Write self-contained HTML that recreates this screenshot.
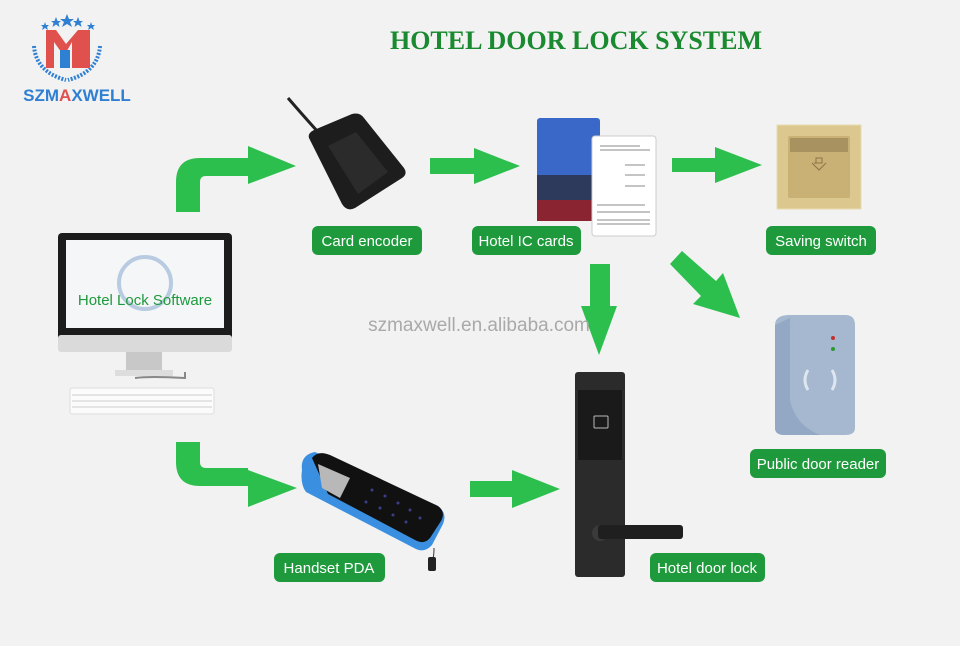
<!DOCTYPE html>
<html><head><meta charset="utf-8"><style>
html,body{margin:0;padding:0;background:#f2f2f2;}
svg{display:block}
.lbl{font-family:"Liberation Sans",sans-serif;font-size:15px;fill:#fff;}
</style></head><body>
<svg width="960" height="646" viewBox="0 0 960 646" xmlns="http://www.w3.org/2000/svg">
<rect width="960" height="646" fill="#f2f2f2"/>
<g fill="#2f7fd3">
<polygon points="67,14 69,19 74,19 70,22 72,27 67,24 62,27 64,22 60,19 65,19"/>
<polygon points="56,17 57.5,21 61,21 58.5,23 59.5,27 56,24.5 52.5,27 53.5,23 51,21 54.5,21"/>
<polygon points="78,17 79.5,21 83,21 80.5,23 81.5,27 78,24.5 74.5,27 75.5,23 73,21 76.5,21"/>
<polygon points="45,22 46,25 49,25 47,27 48,30 45,28 42,30 43,27 41,25 44,25"/>
<polygon points="91,22 92,25 95,25 93,27 94,30 91,28 88,30 89,27 87,25 90,25"/>
</g>
<path d="M34,46 Q36,72 66,80 M100,46 Q98,72 68,80" stroke="#2f7fd3" stroke-width="4" fill="none" stroke-dasharray="2 1.5"/>
<path d="M46,30 L46,68 L54,68 L54,42 L64,56 L72,42 L72,68 L90,68 L90,30 L78,30 L66,44 L56,30 Z" fill="#e0514d"/>
<rect x="60" y="50" width="10" height="18" fill="#2f7fd3"/>
<text x="77" y="101" text-anchor="middle" font-family="Liberation Sans,sans-serif" font-weight="bold" font-size="17" fill="#2f7fd3">SZM<tspan fill="#e0514d">A</tspan>XWELL</text>
<text x="576" y="49" text-anchor="middle" font-family="Liberation Serif,serif" font-weight="bold" font-size="26" fill="#1a8a30">HOTEL DOOR LOCK SYSTEM</text>
<g fill="#2dbf4e">
<path d="M176,212 L176,182 Q176,158 200,158 L248,158 L248,146 L296,166 L248,184 L248,176 L206,176 Q200,176 200,182 L200,212 Z"/>
<path d="M430,158 L474,158 L474,148 L520,166 L474,184 L474,174 L430,174 Z"/>
<path d="M672,158 L715,158 L715,147 L762,165 L715,183 L715,172 L672,172 Z"/>
<path d="M590,264 L610,264 L610,306 L617,306 L599,355 L581,306 L590,306 Z"/>
<path d="M670,264 L682,251 L716,281 L723,273 L740,318 L693,304 L701,296 Z"/>
<path d="M176,442 L200,442 L200,462 Q200,468 206,468 L248,468 L248,470 L297,488 L248,507 L248,486 L200,486 Q176,486 176,462 Z"/>
<path d="M470,481 L512,481 L512,470 L560,489 L512,508 L512,497 L470,497 Z"/>
</g>
<text x="479" y="331" text-anchor="middle" font-family="Liberation Sans,sans-serif" font-size="19" fill="#a9a9a9">szmaxwell.en.alibaba.com</text>
<rect x="58" y="233" width="174" height="115" rx="4" fill="#1c1c1c"/>
<rect x="66" y="240" width="158" height="88" fill="#f4f6f8"/>
<circle cx="145" cy="283" r="26" fill="none" stroke="#b8cbe0" stroke-width="4"/>
<rect x="58" y="335" width="174" height="17" rx="3" fill="#dadada"/>
<rect x="126" y="352" width="36" height="20" fill="#c8c8c8"/>
<rect x="115" y="370" width="58" height="6" fill="#ddd"/>
<path d="M135,378 Q150,376 185,378 L185,372" stroke="#888" stroke-width="2" fill="none"/>
<rect x="70" y="388" width="144" height="26" rx="2" fill="#fbfbfb" stroke="#ddd"/>
<g stroke="#ccc" stroke-width="1"><line x1="72" y1="395" x2="212" y2="395"/><line x1="72" y1="401" x2="212" y2="401"/><line x1="72" y1="407" x2="212" y2="407"/></g>
<text x="145" y="305" text-anchor="middle" font-family="Liberation Sans,sans-serif" font-size="15" fill="#1e9a3c">Hotel Lock Software</text>
<path d="M288,98 Q300,112 318,132" stroke="#222" stroke-width="3" fill="none"/>
<path d="M310,140 Q306,134 314,130 L352,114 Q360,112 364,118 L404,168 Q408,174 402,178 L355,208 Q347,212 342,204 Z" fill="#1d1d1d"/>
<path d="M328,146 L356,132 L388,172 L358,194 Z" fill="#2b2b2b"/>
<rect x="537" y="118" width="63" height="103" rx="3" fill="#3a68c8"/>
<rect x="537" y="175" width="63" height="28" fill="#2d3a5c"/>
<rect x="537" y="200" width="63" height="21" fill="#8a2430"/>
<rect x="592" y="136" width="64" height="100" rx="3" fill="#fff" stroke="#ccc"/>
<g stroke="#888" stroke-width="1"><line x1="600" y1="146" x2="640" y2="146"/><line x1="600" y1="150" x2="650" y2="150"/><line x1="625" y1="165" x2="645" y2="165"/><line x1="625" y1="175" x2="645" y2="175"/><line x1="625" y1="186" x2="645" y2="186"/><line x1="597" y1="205" x2="645" y2="205"/><line x1="597" y1="212" x2="650" y2="212"/><line x1="597" y1="220" x2="650" y2="220"/><line x1="597" y1="224" x2="650" y2="224"/></g>
<rect x="777" y="125" width="84" height="84" fill="#dcc88e" stroke="#e8dcb0"/>
<rect x="788" y="136" width="62" height="62" rx="2" fill="#c9b074"/>
<rect x="790" y="138" width="58" height="14" fill="#a89260"/>
<path d="M814,163 L822,163 L822,158 L816,158 L816,163 Z M812,163 L819,170 L826,163" stroke="#8a7448" fill="none"/>
<path d="M775,325 Q775,315 790,315 L845,315 Q855,315 855,325 L855,428 Q855,435 845,435 L785,435 Q775,435 775,428 Z" fill="#a5b8d0"/>
<path d="M775,325 L790,318 L790,400 Q795,425 820,435 L785,435 Q775,435 775,428Z" fill="#93a8c4"/>
<circle cx="833" cy="338" r="2" fill="#c0302a"/><circle cx="833" cy="349" r="2" fill="#2a9a30"/>
<path d="M808,370 Q802,380 808,390 M832,370 Q838,380 832,390" stroke="#dfe6ef" stroke-width="3" fill="none"/>
<path d="M302,470 Q300,455 315,452 L436,505 Q448,512 443,524 L432,545 Q424,554 414,548 L306,492 Q300,484 302,470 Z" fill="#3a8fe0"/>
<path d="M312,458 Q318,450 330,455 L438,506 Q446,512 441,521 L430,538 Q424,545 415,540 L328,494 Z" fill="#111"/>
<path d="M318,464 L350,478 L340,498 L322,488 Z" fill="#b8b8b8"/>
<g fill="#3b3f8a"><circle cx="372" cy="490" r="1.5"/><circle cx="385" cy="496" r="1.5"/><circle cx="398" cy="503" r="1.5"/><circle cx="366" cy="502" r="1.5"/><circle cx="380" cy="508" r="1.5"/><circle cx="393" cy="515" r="1.5"/><circle cx="410" cy="510" r="1.5"/><circle cx="406" cy="522" r="1.5"/><circle cx="420" cy="518" r="1.5"/></g>
<path d="M434,548 Q434,558 432,560" stroke="#333" fill="none"/>
<rect x="428" y="557" width="8" height="14" rx="2" fill="#222"/>
<rect x="575" y="372" width="50" height="205" rx="3" fill="#2b2b2b"/>
<rect x="578" y="390" width="44" height="70" fill="#1a1a1a"/>
<rect x="594" y="416" width="14" height="12" rx="1" fill="none" stroke="#bbb"/>
<circle cx="600" cy="533" r="8" fill="#3a3a3a"/>
<rect x="598" y="525" width="85" height="14" rx="3" fill="#1f1f1f"/>
<g fill="#1e9a3c">
<rect x="312" y="226" width="110" height="29" rx="6"/>
<rect x="472" y="226" width="109" height="29" rx="6"/>
<rect x="766" y="226" width="110" height="29" rx="6"/>
<rect x="750" y="449" width="136" height="29" rx="6"/>
<rect x="274" y="553" width="111" height="29" rx="6"/>
<rect x="650" y="553" width="115" height="29" rx="6"/>
</g>
<g class="lbl" text-anchor="middle">
<text x="367" y="246">Card encoder</text>
<text x="526" y="246">Hotel IC cards</text>
<text x="821" y="246">Saving switch</text>
<text x="818" y="469">Public door reader</text>
<text x="329" y="573">Handset PDA</text>
<text x="707" y="573">Hotel door lock</text>
</g>
</svg>
</body></html>
